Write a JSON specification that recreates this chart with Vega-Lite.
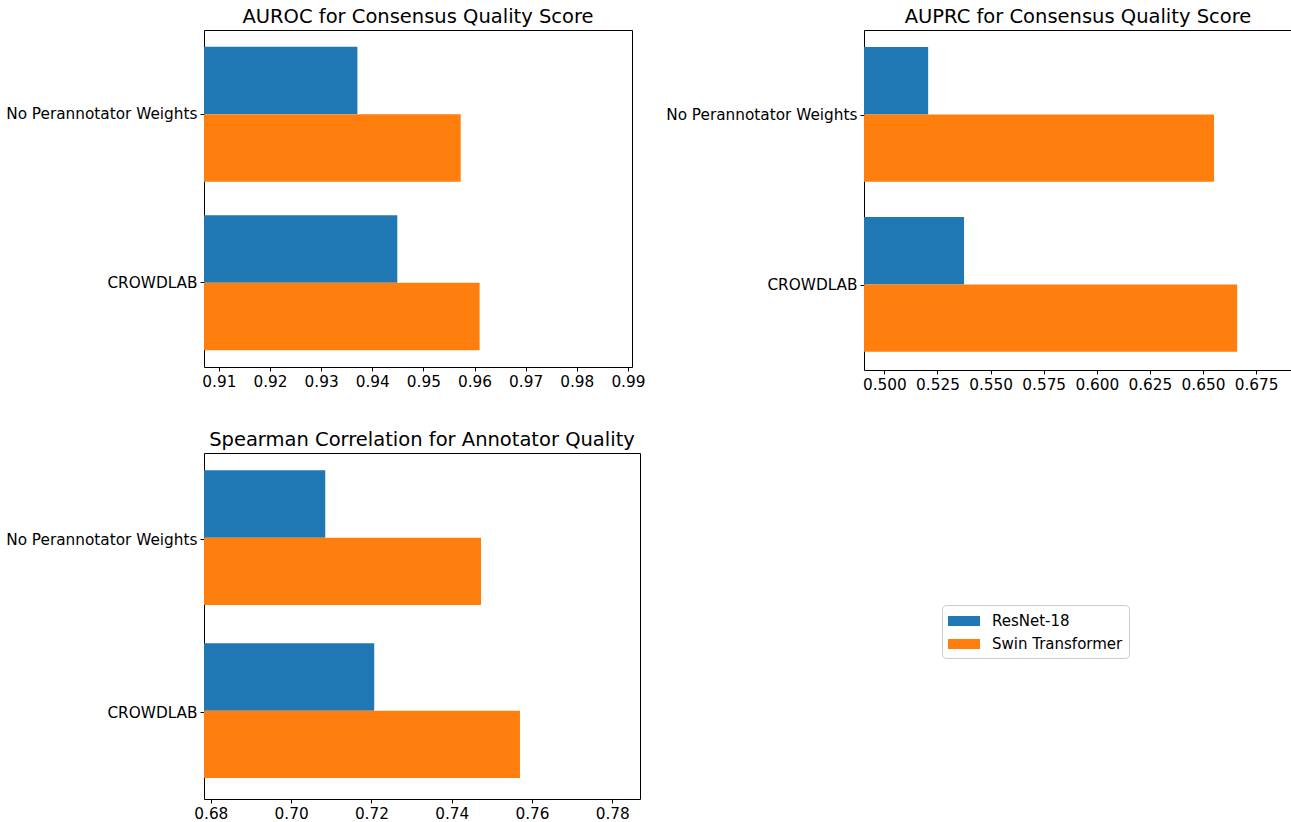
{
  "$schema": "https://vega.github.io/schema/vega-lite/v6.json",
  "background": "white",
  "padding": {"left": 5, "top": 6, "right": 5, "bottom": 0},
  "config": {
    "font": "DejaVu Sans",
    "view": {"stroke": "black", "strokeWidth": 1},
    "axis": {"grid": false, "domain": false, "tickColor": "black", "tickSize": 4, "labelColor": "black", "labelFontSize": 15.3, "labelFont": "DejaVu Sans", "title": null, "labelPadding": 3, "labelLimit": 400},
    "title": {"fontSize": 19.5, "fontWeight": "normal", "font": "DejaVu Sans", "color": "black", "offset": 3}
  },
  "datasets": {
    "auroc": [
      {"method": "No Perannotator Weights", "model": "ResNet-18", "value": 0.9371},
      {"method": "No Perannotator Weights", "model": "Swin Transformer", "value": 0.9573},
      {"method": "CROWDLAB", "model": "ResNet-18", "value": 0.9449},
      {"method": "CROWDLAB", "model": "Swin Transformer", "value": 0.961}
    ],
    "auprc": [
      {"method": "No Perannotator Weights", "model": "ResNet-18", "value": 0.5206},
      {"method": "No Perannotator Weights", "model": "Swin Transformer", "value": 0.6552},
      {"method": "CROWDLAB", "model": "ResNet-18", "value": 0.5375},
      {"method": "CROWDLAB", "model": "Swin Transformer", "value": 0.6661}
    ],
    "spearman": [
      {"method": "No Perannotator Weights", "model": "ResNet-18", "value": 0.7085},
      {"method": "No Perannotator Weights", "model": "Swin Transformer", "value": 0.7473},
      {"method": "CROWDLAB", "model": "ResNet-18", "value": 0.7207},
      {"method": "CROWDLAB", "model": "Swin Transformer", "value": 0.757}
    ]
  },
  "resolve": {"legend": {"color": "independent"}},
  "hconcat": [
    {
      "spacing": 39,
      "resolve": {"legend": {"color": "independent"}},
      "vconcat": [
        {
          "title": "AUROC for Consensus Quality Score",
          "width": 428,
          "height": 337,
          "data": {"name": "auroc"},
          "mark": {"type": "bar", "clip": true},
          "encoding": {
            "y": {"field": "method", "type": "nominal", "sort": ["No Perannotator Weights", "CROWDLAB"], "scale": {"paddingInner": 0.2, "paddingOuter": 0.1}},
            "yOffset": {"field": "model", "type": "nominal", "sort": ["ResNet-18", "Swin Transformer"], "scale": {"paddingInner": 0, "paddingOuter": 0}},
            "x": {"field": "value", "type": "quantitative", "scale": {"domain": [0.9071, 0.9908], "zero": false, "nice": false}, "axis": {"values": [0.91, 0.92, 0.93, 0.94, 0.95, 0.96, 0.97, 0.98, 0.99], "format": ".2f"}},
            "color": {"field": "model", "type": "nominal", "scale": {"domain": ["ResNet-18", "Swin Transformer"], "range": ["#1f77b4", "#ff7f0e"]}, "legend": null}
          }
        },
        {
          "title": "Spearman Correlation for Annotator Quality",
          "width": 436,
          "height": 346,
          "data": {"name": "spearman"},
          "mark": {"type": "bar", "clip": true},
          "encoding": {
            "y": {"field": "method", "type": "nominal", "sort": ["No Perannotator Weights", "CROWDLAB"], "scale": {"paddingInner": 0.2, "paddingOuter": 0.1}},
            "yOffset": {"field": "model", "type": "nominal", "sort": ["ResNet-18", "Swin Transformer"], "scale": {"paddingInner": 0, "paddingOuter": 0}},
            "x": {"field": "value", "type": "quantitative", "scale": {"domain": [0.6783, 0.7869], "zero": false, "nice": false}, "axis": {"values": [0.68, 0.7, 0.72, 0.74, 0.76, 0.78], "format": ".2f"}},
            "color": {"field": "model", "type": "nominal", "scale": {"domain": ["ResNet-18", "Swin Transformer"], "range": ["#1f77b4", "#ff7f0e"]}, "legend": null}
          }
        }
      ]
    },
    {
      "title": "AUPRC for Consensus Quality Score",
      "width": 428,
      "height": 340,
      "data": {"name": "auprc"},
      "mark": {"type": "bar", "clip": true},
      "encoding": {
        "y": {"field": "method", "type": "nominal", "sort": ["No Perannotator Weights", "CROWDLAB"], "scale": {"paddingInner": 0.2, "paddingOuter": 0.1}},
        "yOffset": {"field": "model", "type": "nominal", "sort": ["ResNet-18", "Swin Transformer"], "scale": {"paddingInner": 0, "paddingOuter": 0}},
        "x": {"field": "value", "type": "quantitative", "scale": {"domain": [0.4904, 0.6919], "zero": false, "nice": false}, "axis": {"values": [0.5, 0.525, 0.55, 0.575, 0.6, 0.625, 0.65, 0.675], "format": ".3f"}},
        "color": {"field": "model", "type": "nominal", "scale": {"domain": ["ResNet-18", "Swin Transformer"], "range": ["#1f77b4", "#ff7f0e"]},
          "legend": {"title": null, "orient": "none", "legendX": 78, "legendY": 575, "labelFontSize": 15, "labelColor": "black", "symbolType": "M-1.6,-0.5L1.6,-0.5L1.6,0.5L-1.6,0.5Z", "symbolSize": 400, "symbolStrokeWidth": 0, "symbolOffset": 6, "strokeColor": "#cccccc", "cornerRadius": 4, "padding": 6, "rowPadding": 5, "labelOffset": 18, "fillColor": "white"}}
      }
    }
  ],
  "spacing": 19
}
